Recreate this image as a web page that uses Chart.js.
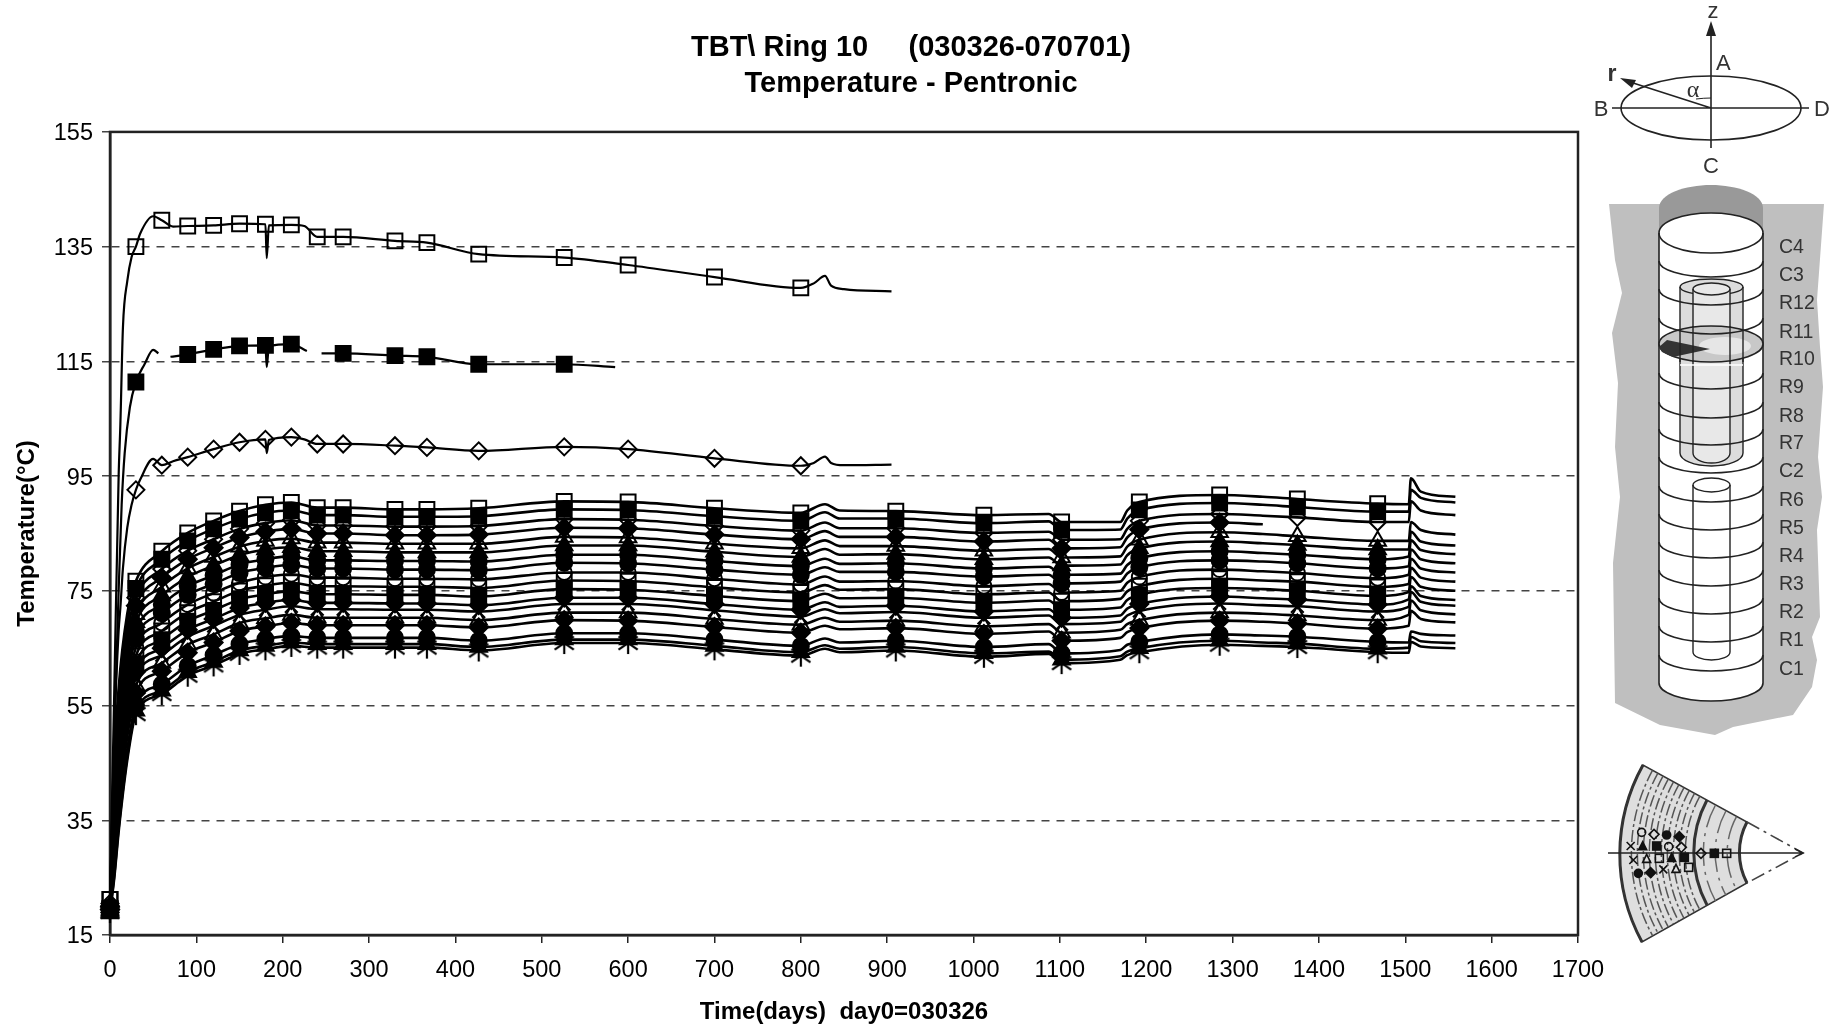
<!DOCTYPE html>
<html>
<head>
<meta charset="utf-8">
<title>TBT Ring 10</title>
<script src="https://cdn.jsdelivr.net/npm/chart.js@4"></script>
<style>
  html, body { margin: 0; padding: 0; background: #fff; overflow: hidden; }
  #wrap { position: relative; width: 1836px; height: 1027px; }
  #chart { position: absolute; left: 0; top: 0; }
  #sketch { position: absolute; left: 0; top: 0; pointer-events: none; }
  #sketch text { font-family: "Liberation Sans", Arial, sans-serif; fill: #333; }
</style>
</head>
<body>
<div id="wrap">
  <canvas id="chart" width="1822" height="1027"></canvas>
  <svg id="sketch" width="1836" height="1027" viewBox="0 0 1836 1027">
    <!-- coordinate system -->
    <g fill="none" stroke="#222" stroke-width="1.6">
      <ellipse cx="1711" cy="108" rx="90" ry="32"/>
      <path d="M1612 108H1809M1711 30V148M1711 108L1630 82"/>
      <path d="M1696 99Q1704 98 1711 98" stroke-width="1"/>
    </g>
    <path d="M1711 21L1706 36H1716Z" fill="#222"/>
    <path d="M1620 78L1636 80L1632 88Z" fill="#222"/>
    <text x="1713" y="18" font-size="22" text-anchor="middle">z</text>
    <text x="1716" y="70" font-size="22">A</text>
    <text x="1601" y="116" font-size="22" text-anchor="middle">B</text>
    <text x="1822" y="116" font-size="22" text-anchor="middle">D</text>
    <text x="1711" y="173" font-size="22" text-anchor="middle">C</text>
    <text x="1612" y="81" font-size="23" font-weight="bold" text-anchor="middle">r</text>
    <text x="1693" y="97" font-size="24" text-anchor="middle" style="font-family:'Liberation Serif',serif">α</text>

    <!-- borehole -->
    <path fill="#bfbfbf" d="M1609 204L1615 260L1622 293L1612 333L1618 383L1615 447L1620 497L1613 563L1615 703L1660 725L1715 735L1733 727L1793 715L1812 687L1817 660L1812 637L1820 617L1817 530L1822 497L1818 457L1823 387L1820 347L1817 300L1824 204Z"/>
    <path fill="#999" d="M1659 234V208C1659 194 1685 185 1711 185S1763 194 1763 208V234Z"/>
    <path fill="#fff" stroke="#222" stroke-width="1.6" d="M1659 233A52 20 0 0 1 1763 233V683A52 18 0 0 1 1659 683Z"/>
    <path fill="none" stroke="#222" stroke-width="1.6" d="M1659 233A52 20 0 0 0 1763 233"/>
    <g id="shells" stroke="#222" stroke-width="1.4">
      <path fill="#dcdcdc" d="M1680 287A31.5 8 0 0 1 1743 287V453A31.5 13 0 0 1 1680 453Z"/>
      <path fill="none" d="M1680 287A31.5 8 0 0 0 1743 287"/>
      <path fill="#e8e8e8" d="M1693 289A18.5 6 0 0 1 1730 289V453A18.5 10 0 0 1 1693 453Z"/>
      <path fill="none" d="M1693 289A18.5 6 0 0 0 1730 289"/>
      <path fill="#fff" d="M1693 485A18.5 7 0 0 1 1730 485V652A18.5 8 0 0 1 1693 652Z"/>
      <path fill="none" d="M1693 485A18.5 7 0 0 0 1730 485"/>
    </g>
    <ellipse cx="1711" cy="344" rx="52" ry="18" fill="#c8c8c8" stroke="#222" stroke-width="1.6"/>
    <ellipse cx="1725" cy="346" rx="26" ry="9" fill="#e6e6e6"/>
    <path fill="#333" d="M1659 347L1667 340L1710 349L1673 357L1662 352Z"/>
    <path stroke="#222" stroke-width="1.4" fill="none" d="M1680 330V362M1693 326V362M1730 326V362M1743 330V362"/>
    <path stroke="#fff" stroke-width="1.4" fill="none" d="M1680 365H1743"/>
    <g id="rings" fill="none" stroke="#222" stroke-width="1.6"></g>
    <g id="ringLabels" font-size="19.5"></g>

    <!-- plan view -->
    <path fill="#dedede" stroke="#333" stroke-width="1.6" d="M1643 765A184 184 0 0 0 1642 942L1747 883A65 65 0 0 1 1747 822Z"/>
    <g id="arcs" fill="none" stroke="#666" stroke-width="1.5"></g>
    <path fill="none" stroke="#333" stroke-width="3" d="M1643 765A184 184 0 0 0 1642 942M1707 800A111 111 0 0 0 1707 905M1747 822A65 65 0 0 0 1747 883"/>
    <path fill="none" stroke="#444" stroke-width="1.6" stroke-dasharray="14 5 3 5" d="M1747 822L1803 853L1747 883"/>
    <path fill="none" stroke="#222" stroke-width="1.4" d="M1608 853H1803M1795 849L1803 853L1795 857"/>
    <g id="plan"></g>
  </svg>
</div>

<script>
/* ── Datos ─────────────────────────────────────────────────── */
const X_TICKS = { min: 0, max: 1700, step: 100 };
const Y_TICKS = { min: 15, max: 155, step: 20 };
const TITLE_LINES = ['TBT\\ Ring 10     (030326-070701)', 'Temperature - Pentronic'];
const X_TITLE = 'Time(days)  day0=030326';
const Y_TITLE = 'Temperature(°C)';

// Tres curvas altas
const upperDays = [0,5,10,12,15,20,25,30,35,50,60,73,90,120,150,180,181.5,184,210,225,240,270,330,367,427,526,600,700,800,815,828,835,850,905];
const upperSquare = [21.2,58,95,104,121,129,133.2,135,137.3,140.3,139.6,138.5,138.6,138.7,139,138.9,133,138.7,138.8,138.6,136.7,136.7,136,135.7,133.7,133.1,131.8,129.7,127.8,128.6,129.9,128.2,127.6,127.2];
const upperDiamond = [20.5,50,68,72,79,86,90,92.6,94.4,98,96.9,97.6,98.3,99.7,100.9,101.4,99,101.3,101.8,101.4,100.6,100.6,100.3,100,99.4,100.1,99.7,98.1,96.8,97.3,98.4,97.3,96.9,97];
const filledDays = [0,5,10,13.5,17,23,30,40,50,56,63,70,90,120,150,180,181.5,184,210,228,237,245,270,330,367,427,526,585];
const filledSquare = [19.5,50,75,90,99,107,111.4,114.5,117,116.4,null,115.8,116.2,117.1,117.7,117.8,114,117.6,118,116.8,null,116.4,116.4,116,115.8,114.5,114.5,114];

// Marcas de las curvas altas
const upperMarks = [0,30,60,90,120,150,180,210,240,270,330,367,427,526,600,700,800];
const filledMarks = [0,30,90,120,150,180,210,270,330,367,427,526];

// Haz de 18 curvas
const stackDays = [0,5,10,20,30,60,90,120,150,180,210,240,270,330,367,427,526,600,700,800,828,845,910,1012,1087,1102,1170,1178,1192,1285,1335,1375,1468,1504,1506.5,1518,1558];
const stackMarks = [0,30,60,90,120,150,180,210,240,270,330,367,427,526,600,700,800,910,1012,1102,1192,1285,1375,1468];
const s01 = [21.2,45,58,71,76.7,81.9,85.1,87.2,88.9,90,90.4,89.5,89.5,89.2,89.2,89.4,90.6,90.5,89.4,88.6,90.1,89,88.9,88.2,88.4,87,87,89,90.5,91.7,91.4,91,90.2,90.1,94.6,92.3,91.4];
const s02 = [19.2,43.9,56.6,69.6,75.4,80.5,83.7,85.8,87.5,88.6,89,88.2,88.2,87.9,87.9,88,89.2,89.1,88,87.2,88.7,87.6,87.6,86.8,87.1,85.6,85.7,87.6,89.1,90.3,90,89.6,88.8,88.8,92.6,91.2,90.4];
const s03 = [20,42.5,54.9,67.8,73.8,78.8,82,84,85.8,86.8,87.3,86.4,86.4,86.2,86.2,86.3,87.5,87.4,86.3,85.5,86.9,85.9,85.9,85.1,85.3,83.9,84,85.8,87.2,88.4,88.1,87.8,87,87,90.6,89,88.2];
const s04 = [19.9,41.3,53.4,66.3,72.4,77.3,80.5,82.5,84.3,85.3,85.8,85,85,84.7,84.7,84.8,86,85.9,84.8,84,85.4,84.4,84.4,83.6,83.9,82.4,82.6,84.3,85.7,86.9,86.6,null,null,null,null,null,null];
const s05 = [19.9,40,51.7,64.6,70.9,75.7,78.9,80.9,82.7,83.7,84.1,83.4,83.4,83.2,83.2,83.2,84.4,84.3,83.2,82.4,83.8,82.8,82.8,82,82.3,80.8,81,82.7,83.9,85.2,84.9,84.5,83.7,83.7,87,85.6,84.8];
const s06 = [19.8,38.8,50.2,63.1,69.5,74.2,77.4,79.4,81.2,82.2,82.6,81.9,81.9,81.7,81.7,81.7,82.9,82.9,81.8,80.9,82.3,81.3,81.4,80.5,80.8,79.4,79.6,81.2,82.4,83.6,83.3,83,82.2,82.2,85.3,83.6,82.9];
const s07 = [19.8,37.5,48.6,61.4,68,72.6,75.8,77.7,79.6,80.5,81,80.3,80.3,80.2,80.2,80.1,81.3,81.3,80.2,79.3,80.6,79.7,79.8,78.9,79.2,77.8,78,79.5,80.7,81.9,81.6,81.3,80.5,81,83.8,82.1,81.4];
const s08 = [19.7,36.3,47.1,59.9,66.6,71.1,74.3,76.2,78.1,79,79.5,78.9,78.9,78.7,78.7,78.6,79.9,79.8,78.7,77.8,79.1,78.3,78.3,77.5,77.8,76.3,76.6,78,79.1,80.3,80.1,79.8,78.9,79.3,82.2,80.5,79.8];
const s09 = [19.7,35,45.5,58.2,65.1,69.4,72.6,74.6,76.4,77.4,77.9,77.3,77.3,77.1,77.1,77,78.2,78.2,77.1,76.1,77.5,76.6,76.7,75.8,76.2,74.7,75,76.4,77.4,78.7,78.4,78.1,77.2,77.8,80.6,78.9,78.2];
const s10 = [19.6,33.8,44,56.7,63.7,68,71.2,73.1,75,75.9,76.4,75.8,75.8,75.7,75.7,75.5,76.8,76.7,75.6,74.7,76,75.2,75.3,74.4,74.7,73.2,73.6,74.9,75.8,77.1,76.8,76.6,75.7,76.2,79,77.3,76.6];
const s11 = [19.6,32.6,42.5,55.2,62.3,66.5,69.7,71.6,73.5,74.4,74.9,74.4,74.4,74.3,74.3,74,75.3,75.2,74.1,73.2,74.5,73.7,73.8,72.9,73.3,71.7,72.1,73.4,74.3,75.5,75.3,75,74.1,74.8,77.4,75.7,75];
const s12 = [19.5,31.4,41,53.7,60.9,65,68.2,70.1,72,72.9,73.4,72.9,72.9,72.8,72.8,72.5,73.8,73.8,72.7,71.7,73,72.2,72.4,71.4,71.8,70.3,70.7,71.9,72.7,74,73.7,73.5,72.6,73.5,75.8,74.1,73.4];
const s13 = [19.5,30.5,39.9,52.5,59.9,63.8,67,68.9,70.8,71.7,72.3,71.8,71.8,71.7,71.7,71.4,72.7,72.7,71.6,70.5,71.8,71.1,71.3,70.3,70.7,69.2,69.6,70.7,71.5,72.8,72.5,72.3,71.4,72.2,74.8,73.1,72.4];
const s14 = [19.4,29.3,38.4,51,58.5,62.4,65.6,67.4,69.4,70.2,70.8,70.3,70.3,70.3,70.3,69.9,71.2,71.2,70.1,69.1,70.3,69.6,69.8,68.8,69.2,67.7,68.2,69.2,69.9,71.2,71,70.7,69.9,70.8,73.3,71.6,70.9];
const s15 = [19.4,28.2,37,49.6,57.2,61,64.2,66,68,68.8,69.4,69,69,69,69,68.6,69.9,69.8,68.7,67.7,68.9,68.3,68.5,67.5,67.9,66.3,66.8,67.8,68.5,69.8,69.6,69.3,68.4,68.9,71.5,70.1,69.5];
const s16 = [19.3,26.4,34.7,47.3,55.1,58.7,61.9,63.8,65.7,66.6,67.1,66.8,66.8,66.8,66.8,66.3,67.6,67.6,66.5,65.4,66.7,66,66.3,65.2,65.7,64.1,64.7,65.6,66.1,67.4,67.2,67,66.1,66,67.9,67.5,67.2];
const s17 = [19.2,25.5,33.6,46.1,54.1,57.6,60.8,62.6,64.6,65.4,66,65.7,65.7,65.7,65.7,65.2,66.5,66.5,65.4,64.3,65.5,64.9,65.2,64.1,64.4,63,63.6,64.4,65,66.3,66,65.8,64.9,65.1,67,66.2,65.9];
const s18 = [19,25,33,45.5,53.5,57,60.2,62,64,64.8,65.4,65.1,65.1,65.1,65.1,64.6,65.9,65.9,64.8,63.7,64.9,64.3,64.6,63.5,64,62.4,63,63.8,64.3,65.6,65.4,65.2,64.3,64.2,66.1,65.3,65];

// Símbolo de cada curva del haz, de arriba abajo
const stackSymbols = ['square','fsquare','diamond','fdiamond','triangle','ftriangle','fcircle','fcircle','circle','square','fsquare','fdiamond','x','triangle','fdiamond','fcircle','ftriangle','star'];

const RING_LABELS = ['C4','C3','R12','R11','R10','R9','R8','R7','C2','R6','R5','R4','R3','R2','R1','C1'];
const RING_LABEL_Y = [247,275,303,332,359,387,416,443,471,500,528,556,584,612,640,669];

/* ── Asterisco de 6 brazos como en Excel ───────────────────── */
function makeAsterisk(r) {
    const c = document.createElement('canvas');
    c.width = c.height = r * 2 + 4;
    const g = c.getContext('2d');
    g.strokeStyle = '#000';
    g.lineWidth = 2.2;
    g.translate(r + 2, r + 2);
    [[0, 1], [0.87, 0.6], [-0.87, 0.6]].forEach(([dx, dy]) => {
        g.beginPath();
        g.moveTo(-dx * r, -dy * r);
        g.lineTo(dx * r, dy * r);
        g.stroke();
    });
    return c;
}

const SYMBOLS = {
    square:    { style: 'rect',     radius: 10.5, fill: 'transparent' },
    fsquare:   { style: 'rect',     radius: 10.5, fill: '#000' },
    diamond:   { style: 'rectRot',  radius: 8.5,  fill: 'transparent' },
    fdiamond:  { style: 'rectRot',  radius: 9,    fill: '#000' },
    triangle:  { style: 'triangle', radius: 9.5,  fill: 'transparent' },
    ftriangle: { style: 'triangle', radius: 9.5,  fill: '#000' },
    circle:    { style: 'circle',   radius: 7.5,  fill: 'transparent' },
    fcircle:   { style: 'circle',   radius: 8,    fill: '#000' },
    x:         { style: 'crossRot', radius: 9,    fill: 'transparent' },
    star:      { style: makeAsterisk(11), radius: 9, fill: 'transparent' }
};

function seriesDataset(days, values, marks, symbol, width) {
    const s = SYMBOLS[symbol];
    return {
        data: days.map((d, i) => ({ x: d, y: values[i] })),
        borderColor: '#000',
        borderWidth: width,
        cubicInterpolationMode: 'monotone',
        spanGaps: false,
        clip: false,
        pointStyle: s.style,
        pointRadius: days.map(d => marks.includes(d) ? s.radius : 0),
        pointBorderColor: '#000',
        pointBorderWidth: 2,
        pointBackgroundColor: s.fill
    };
}

const stackValues = [s01,s02,s03,s04,s05,s06,s07,s08,s09,s10,s11,s12,s13,s14,s15,s16,s17,s18];
const datasets = [
    seriesDataset(upperDays, upperSquare, upperMarks, 'square', 2.2),
    seriesDataset(filledDays, filledSquare, filledMarks, 'fsquare', 2.2),
    seriesDataset(upperDays, upperDiamond, upperMarks, 'diamond', 2.2),
    ...stackValues.map((vals, i) => seriesDataset(stackDays, vals, stackMarks, stackSymbols[i], 2.6))
];

// Marco del área de trazado
const frame = {
    id: 'frame',
    beforeDatasetsDraw(chart) {
        const { ctx, chartArea: a } = chart;
        ctx.save();
        ctx.strokeStyle = '#222';
        ctx.lineWidth = 2.5;
        ctx.strokeRect(a.left, a.top, a.right - a.left, a.bottom - a.top);
        ctx.restore();
    }
};

const FONT = '"Liberation Sans", Arial, sans-serif';

new Chart(document.getElementById('chart'), {
    type: 'line',
    data: { datasets },
    plugins: [frame],
    options: {
        responsive: false,
        animation: false,
        events: [],
        plugins: {
            legend: { display: false },
            tooltip: { enabled: false },
            title: {
                display: true,
                text: TITLE_LINES,
                color: '#000',
                font: { family: FONT, size: 29, weight: 'bold', lineHeight: 1.24 },
                padding: { top: 30, bottom: 30 }
            }
        },
        scales: {
            x: {
                type: 'linear',
                min: X_TICKS.min,
                max: X_TICKS.max,
                afterFit: s => { s.height = 92; },
                ticks: { stepSize: X_TICKS.step, autoSkip: false, maxRotation: 0, color: '#000', font: { family: FONT, size: 23.5 }, padding: 13, callback: v => String(v) },
                grid: { drawOnChartArea: false, tickLength: 8, color: '#222', lineWidth: 1.5 },
                border: { color: '#222', width: 2.5 },
                title: { display: true, text: X_TITLE, color: '#000', font: { family: FONT, size: 24, weight: 'bold' }, padding: { top: 6, bottom: 0 } }
            },
            y: {
                min: Y_TICKS.min,
                max: Y_TICKS.max,
                afterFit: s => { s.width = 110; },
                ticks: { stepSize: Y_TICKS.step, autoSkip: false, color: '#000', font: { family: FONT, size: 23.5 }, padding: 9, labelOffset: 2 },
                grid: { color: '#444', lineWidth: 1.5, tickLength: 8 },
                border: { color: '#222', width: 2.5, dash: [8, 7] },
                title: { display: true, text: Y_TITLE, color: '#000', font: { family: FONT, size: 24, weight: 'bold' }, padding: { top: 13, bottom: 0 } }
            },
            // Reserva el margen derecho sin descentrar el título
            side: {
                type: 'linear',
                position: 'right',
                display: true,
                afterFit: s => { s.width = 244; },
                ticks: { display: false },
                grid: { display: false },
                border: { display: false }
            }
        }
    }
});

/* ── Dibujo lateral ────────────────────────────────────────── */
const NS = 'http://www.w3.org/2000/svg';
function el(parent, tag, attrs, text) {
    const n = document.createElementNS(NS, tag);
    Object.keys(attrs).forEach(k => n.setAttribute(k, attrs[k]));
    if (text) n.textContent = text;
    document.getElementById(parent).appendChild(n);
}

RING_LABELS.forEach((label, i) => {
    const y = RING_LABEL_Y[i];
    el('ringLabels', 'text', { x: 1779, y: y + 6 }, label);
    if (label === 'C4' || label === 'R10') return;
    const e = y - 14;
    el('rings', 'path', { d: `M1659 ${e}A52 16 0 0 0 1763 ${e}` });
});

// Rayas de la vista en planta
[118, 124, 130, 136, 142, 148, 154, 160, 166, 172, 76, 88, 100].forEach((r, i) => {
    const dx = r * 0.875, dy = r * 0.48;
    el('arcs', 'path', {
        d: `M${1803 - dx} ${853 - dy}A${r} ${r} 0 0 0 ${1803 - dx} ${853 + dy}`,
        'stroke-dasharray': i < 10 ? '12 3 3 3' : '24 6 3 6',
        stroke: i < 10 ? '#555' : '#666'
    });
});

const PLAN = [
    ['circle',155,247],['diamond',192,253],['fcircle',230,255],['fdiamond',268,260],
    ['star',122,288],['ftriangle',158,287],['fsquare',200,288],['circle',236,290],['diamond',274,292],
    ['x',130,330],['triangle',170,325],['square',208,325],['ftriangle',245,322],['fsquare',283,322],
    ['fcircle',145,370],['fdiamond',182,368],['x',220,358],['triangle',258,355],['square',296,352],
    ['diamond',333,310],['fsquare',373,310],['square',410,310]
];
PLAN.forEach(([kind, vx, vy]) => {
    const x = 1590 + vx / 3, y = 750 + vy / 3, r = 4;
    const filled = kind[0] === 'f';
    const base = { fill: filled ? '#111' : 'none', stroke: '#111', 'stroke-width': 1.6 };
    const k = filled ? kind.slice(1) : kind;
    if (k === 'circle') el('plan', 'circle', { cx: x, cy: y, r, ...base });
    else if (k === 'square') el('plan', 'rect', { x: x - r, y: y - r, width: 2 * r, height: 2 * r, ...base });
    else if (k === 'diamond') el('plan', 'path', { d: `M${x - r - 1} ${y}L${x} ${y - r - 1}L${x + r + 1} ${y}L${x} ${y + r + 1}Z`, ...base });
    else if (k === 'triangle') el('plan', 'path', { d: `M${x - r} ${y + r}L${x} ${y - r}L${x + r} ${y + r}Z`, ...base });
    else el('plan', 'path', { d: `M${x - r} ${y - r}L${x + r} ${y + r}M${x + r} ${y - r}L${x - r} ${y + r}`, ...base });
});
</script>
</body>
</html>
